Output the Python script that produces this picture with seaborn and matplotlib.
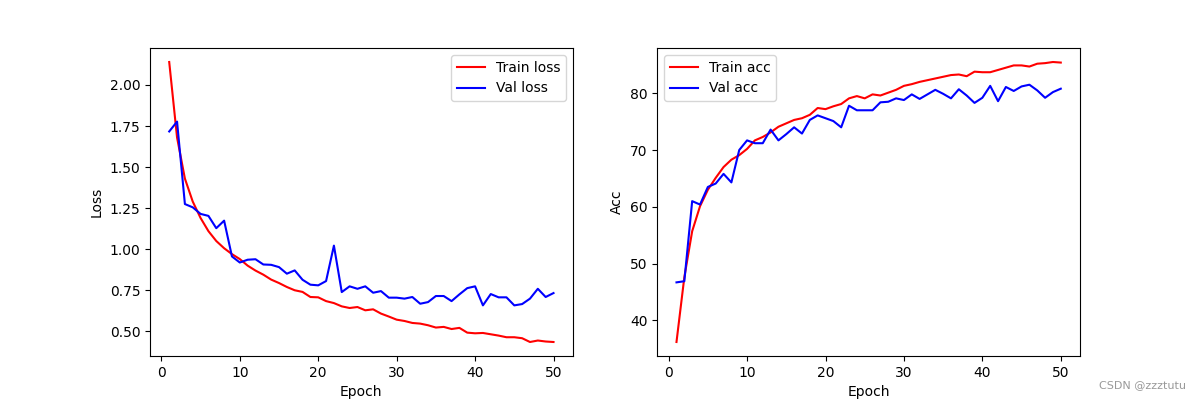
import matplotlib
matplotlib.use("Agg")
import matplotlib.pyplot as plt
import seaborn as sns
import numpy as np
import pandas as pd

epochs = list(range(1, 51))

train_loss = [2.14, 1.68, 1.43, 1.29, 1.19, 1.11, 1.05, 1.006, 0.97, 0.94,
              0.90, 0.87, 0.845, 0.815, 0.794, 0.77, 0.75, 0.74, 0.709, 0.707,
              0.684, 0.672, 0.652, 0.642, 0.648, 0.628, 0.634, 0.608, 0.59, 0.571,
              0.563, 0.551, 0.547, 0.537, 0.523, 0.527, 0.514, 0.521, 0.492, 0.488,
              0.490, 0.482, 0.474, 0.464, 0.464, 0.458, 0.435, 0.444, 0.438, 0.435]
val_loss = [1.717, 1.777, 1.275, 1.255, 1.215, 1.203, 1.128, 1.174, 0.956, 0.919,
            0.936, 0.939, 0.907, 0.905, 0.891, 0.851, 0.871, 0.814, 0.784, 0.78,
            0.806, 1.022, 0.739, 0.774, 0.759, 0.774, 0.735, 0.745, 0.705, 0.705,
            0.699, 0.709, 0.668, 0.678, 0.715, 0.715, 0.684, 0.725, 0.763, 0.774,
            0.658, 0.727, 0.707, 0.707, 0.658, 0.666, 0.699, 0.759, 0.709, 0.733]
train_acc = [36.2, 47.6, 55.7, 60.1, 63.0, 65.1, 67.0, 68.3, 69.1, 70.2,
             71.7, 72.3, 73.1, 74.1, 74.7, 75.3, 75.6, 76.2, 77.4, 77.2,
             77.7, 78.1, 79.1, 79.5, 79.1, 79.8, 79.6, 80.1, 80.6, 81.3,
             81.6, 82.0, 82.3, 82.6, 82.9, 83.2, 83.3, 83.0, 83.8, 83.7,
             83.7, 84.1, 84.5, 84.9, 84.9, 84.7, 85.2, 85.3, 85.5, 85.4]
val_acc = [46.7, 46.9, 61.0, 60.4, 63.5, 64.1, 65.8, 64.3, 70.0, 71.7,
           71.2, 71.2, 73.6, 71.7, 72.8, 74.0, 72.9, 75.3, 76.1, 75.6,
           75.1, 74.0, 77.8, 77.0, 77.0, 77.0, 78.4, 78.5, 79.1, 78.8,
           79.8, 79.0, 79.8, 80.6, 79.9, 79.1, 80.7, 79.6, 78.3, 79.2,
           81.3, 78.6, 81.1, 80.4, 81.2, 81.5, 80.5, 79.2, 80.2, 80.8]

df = pd.DataFrame({"Epoch": epochs, "train_loss": train_loss, "val_loss": val_loss,
                   "train_acc": train_acc, "val_acc": val_acc})

fig, axes = plt.subplots(1, 2, figsize=(12, 4), dpi=100)
ax1, ax2 = axes

sns.lineplot(data=df, x="Epoch", y="train_loss", color="red", label="Train loss", ax=ax1)
sns.lineplot(data=df, x="Epoch", y="val_loss", color="blue", label="Val loss", ax=ax1)
ax1.set_xlabel("Epoch")
ax1.set_ylabel("Loss")
ax1.legend(loc="upper right")

sns.lineplot(data=df, x="Epoch", y="train_acc", color="red", label="Train acc", ax=ax2)
sns.lineplot(data=df, x="Epoch", y="val_acc", color="blue", label="Val acc", ax=ax2)
ax2.set_xlabel("Epoch")
ax2.set_ylabel("Acc")
ax2.legend(loc="upper left")

fig.text(0.988, 0.037, "CSDN @zzztutu", ha="right", va="center", color="#999999", fontsize=8)

fig.savefig("out.png", dpi=100)
